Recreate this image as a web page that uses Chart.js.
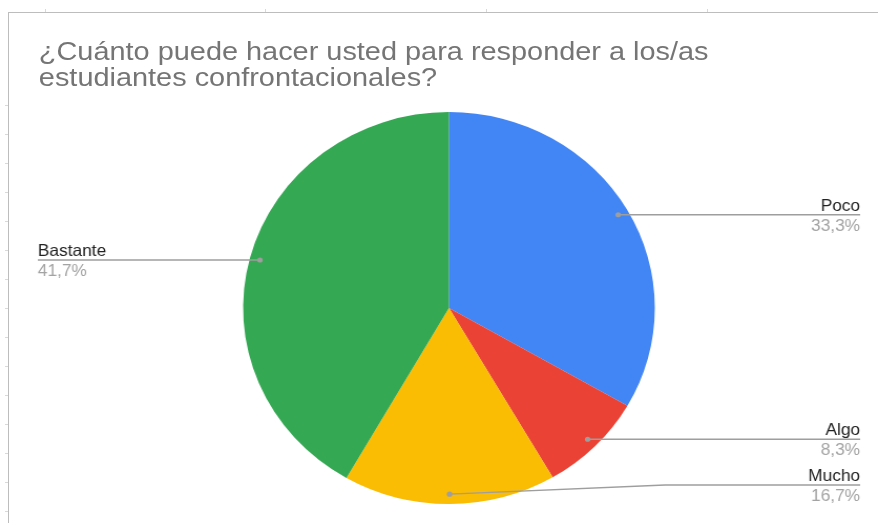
<!DOCTYPE html>
<html lang="es">
<head>
<meta charset="UTF-8">
<title>¿Cuánto puede hacer usted?</title>
<script src="https://cdn.jsdelivr.net/npm/chart.js"></script>
<style>
    body {
        margin: 0;
        width: 878px;
        height: 523px;
        overflow: hidden;
        background: #fff;
        font-family: "Liberation Sans", Arial, sans-serif;
        position: relative;
    }
    .frame {
        position: absolute;
        left: 8px;
        top: 12px;
        width: 880px;
        height: 520px;
        border-left: 1px solid #bdbdbd;
        border-top: 1px solid #bdbdbd;
    }
    .tick { position: absolute; background: #d9d9d9; }
    .stretch {
        position: absolute;
        left: 0;
        top: 0;
        width: 836px;
        height: 523px;
        transform: scaleX(1.0502);
        transform-origin: 0 0;
    }
    .title {
        position: absolute;
        left: 37px;
        top: 38px;
        font-size: 26px;
        line-height: 26px;
        color: #757575;
        white-space: nowrap;
        transform: scaleX(1.058);
        transform-origin: 0 0;
    }
</style>
</head>
<body>
<div class="frame"></div>
<div class="stretch">
    <canvas id="pie" width="836" height="523"></canvas>
    <div class="title">¿Cuánto puede hacer usted para responder a los/as<br>estudiantes confrontacionales?</div>
</div>

<script>
    const categories = ["Poco", "Algo", "Mucho", "Bastante"];
    const percentages = [33.3, 8.3, 16.7, 41.7];
    const colors = ["#4285f4", "#ea4335", "#fbbc04", "#34a853"];

    // spreadsheet grid ticks peeking around the chart frame
    [45, 265, 486, 707].forEach(x => {
        const t = document.createElement("div");
        t.className = "tick";
        t.style.cssText = `left:${x}px;top:9px;width:1px;height:3px`;
        document.body.appendChild(t);
    });
    for (let y = 105; y < 523; y += 29) {
        const t = document.createElement("div");
        t.className = "tick";
        t.style.cssText = `left:5px;top:${y}px;width:3px;height:1px`;
        document.body.appendChild(t);
    }

    // leader lines with name / percentage next to each slice
    const sliceLabels = {
        id: "sliceLabels",
        afterDatasetsDraw(chart) {
            const ctx = chart.ctx;
            const area = chart.chartArea;
            const arcs = chart.getDatasetMeta(0).data;
            const leftX = 36;
            const rightX = chart.width - 17;
            ctx.save();
            arcs.forEach((arc, i) => {
                const mid = (arc.startAngle + arc.endAngle) / 2;
                const r = arc.outerRadius;
                const dx = arc.x + Math.cos(mid) * r * 0.95;
                const dy = arc.y + Math.sin(mid) * r * 0.95;
                const right = Math.cos(mid) >= -0.001;
                const ly = Math.min(dy, area.bottom - 19);
                const bendX = arc.x + (right ? 1 : -1) * r * 1.05;
                const endX = right ? rightX : leftX;

                ctx.strokeStyle = "#9e9e9e";
                ctx.lineWidth = 1.3;
                ctx.beginPath();
                ctx.moveTo(dx, dy);
                if (Math.abs(ly - dy) > 0.5) ctx.lineTo(bendX, ly);
                ctx.lineTo(endX, ly);
                ctx.stroke();

                ctx.fillStyle = "#9e9e9e";
                ctx.beginPath();
                ctx.arc(dx, dy, 2.6, 0, Math.PI * 2);
                ctx.fill();

                ctx.textAlign = right ? "right" : "left";
                ctx.textBaseline = "alphabetic";
                ctx.font = "16.5px 'Liberation Sans', Arial, sans-serif";
                ctx.fillStyle = "#222222";
                ctx.fillText(categories[i], endX, ly - 4);
                ctx.fillStyle = "#a3a3a3";
                ctx.fillText(percentages[i].toFixed(1).replace(".", ",") + "%", endX, ly + 16);
            });
            ctx.restore();
        }
    };

    new Chart(document.getElementById("pie"), {
        type: "pie",
        data: {
            labels: categories,
            datasets: [{
                data: percentages,
                backgroundColor: colors,
                borderWidth: 0
            }]
        },
        options: {
            responsive: false,
            animation: false,
            layout: { padding: { top: 112, bottom: 19, left: 140, right: 121 } },
            plugins: {
                legend: { display: false },
                tooltip: { enabled: false }
            }
        },
        plugins: [sliceLabels]
    });
</script>
</body>
</html>
